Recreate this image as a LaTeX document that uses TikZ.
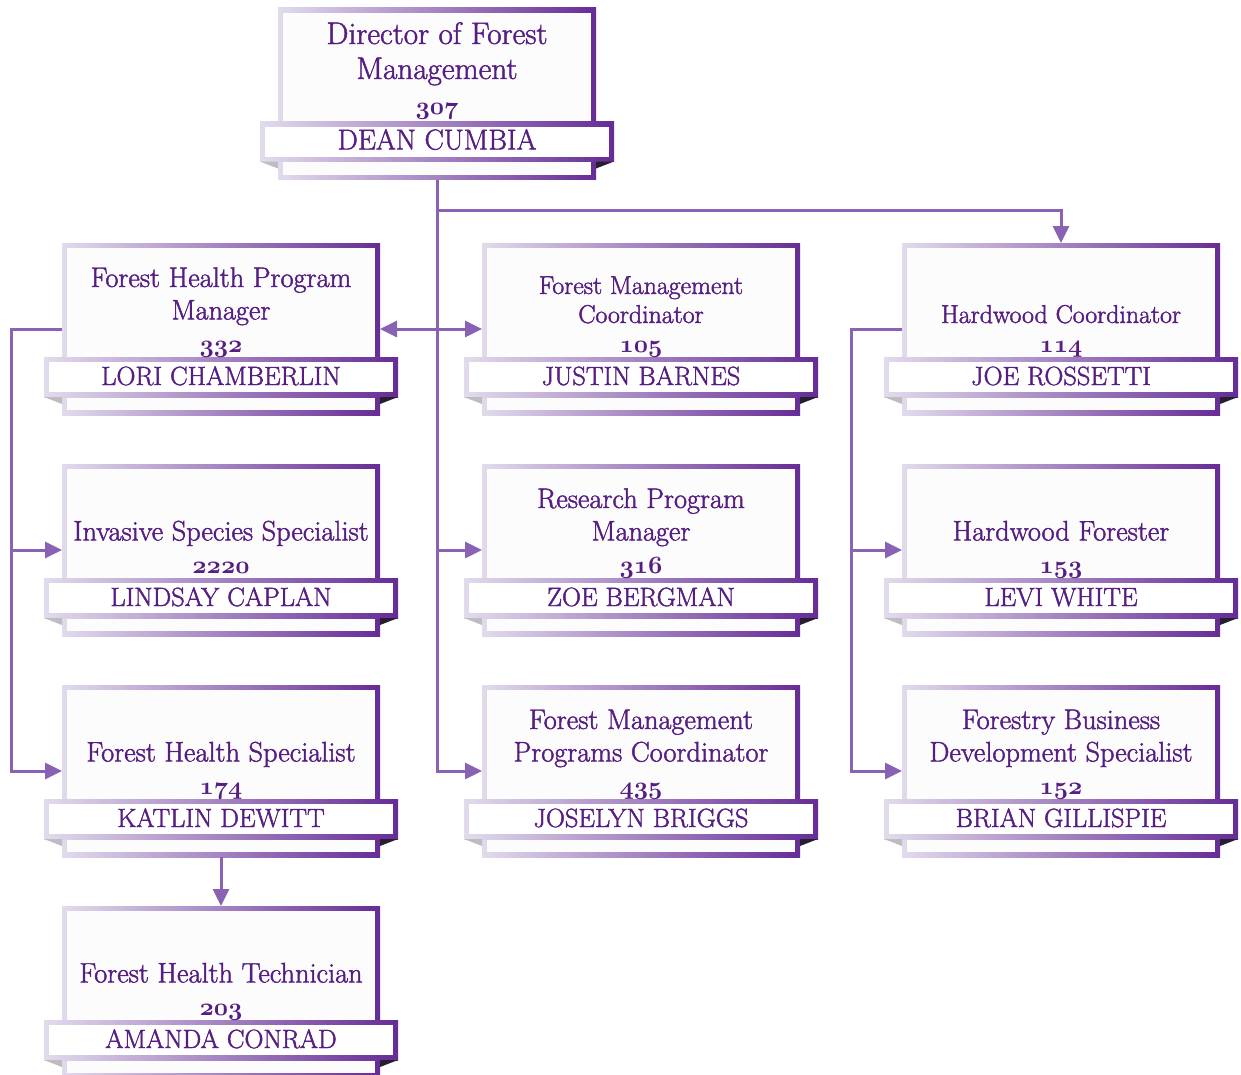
\documentclass[tikz,border=0pt]{standalone}
\usetikzlibrary{arrows.meta}
\definecolor{tp}{RGB}{86,30,130}
\definecolor{lp}{RGB}{138,98,180}
\definecolor{fl}{RGB}{226,219,236}
\definecolor{fd}{RGB}{102,44,150}
\definecolor{cardbg}{RGB}{252,252,253}
\definecolor{foldl}{RGB}{190,188,192}
\definecolor{foldr}{RGB}{40,30,50}
\newcommand\heavytext[1]{\special{pdf:literal direct 2 Tr 0.45 w}#1\special{pdf:literal direct 0 Tr}}
\newcommand\osn[1]{{\special{pdf:literal direct 0 Tr}\fontencoding{OML}\fontfamily{cmm}\fontseries{b}\fontshape{it}\selectfont #1\special{pdf:literal direct 2 Tr}}}
\newcommand\tfn{\fontsize{28.3}{32.5}\selectfont}
\newcommand\tfs{\fontsize{25.8}{29}\selectfont}
\newcommand\tft{\fontsize{31.2}{35}\selectfont}
\newcommand\nfn{\fontsize{26.4}{30}\selectfont}
\newcommand\nft{\fontsize{28.8}{32}\selectfont}
\tikzset{
  cardbox/.style={minimum width=318pt, minimum height=172pt, inner sep=0pt, outer sep=0pt, fill=cardbg},
  frameshade/.style={left color=fl, right color=fd},
  conn/.style={draw=lp, line width=3pt},
  arrowtip/.style={-{Triangle[length=17pt,width=16pt]}},
  ttl/.style={text=tp, inner sep=0pt, outer sep=0pt, align=center, anchor=base},
  nm/.style={text=tp, inner sep=0pt, outer sep=0pt, anchor=base},
}
% #1 name, #2 x, #3 y, #4 title font, #5 last baseline offset, #6 title, #7 person, #8 name font
\newcommand\card[8]{%
  \node[cardbox] (#1) at (#2,#3) {};
  \shade[frameshade] (#1.north west) rectangle (#1.south east);
  \fill[cardbg] ([shift={(5,5)}]#1.north west) rectangle ([shift={(-5,-5)}]#1.south east);
  \shade[frameshade] ([shift={(-177,28)}]#1.center) rectangle ([shift={(177,68)}]#1.center);
  \fill[white] ([shift={(-172,33)}]#1.center) rectangle ([shift={(172,63)}]#1.center);
  \fill[foldl] ([shift={(-177,68)}]#1.center) -- ([shift={(-159,68)}]#1.center) -- ([shift={(-159,75)}]#1.center) -- cycle;
  \fill[foldr] ([shift={(177,68)}]#1.center) -- ([shift={(159,68)}]#1.center) -- ([shift={(159,75)}]#1.center) -- cycle;
  \node[ttl, font=#4] (#1-title) at ([shift={(0,#5)}]#1.center) {\heavytext{#6}};
  \node[nm, font=#8] (#1-name) at ([shift={(0,56)}]#1.center) {\heavytext{#7}};
}
\begin{document}
\begin{tikzpicture}[x=1pt,y=-1pt]
\useasboundingbox (0,0) rectangle (1241,1074);
\fill[white] (0,0) rectangle (1241,1074);

\card{top}{437}{93.5}{\tft}{20.5}{Director of Forest\\Management\\\osn{307}}{DEAN CUMBIA}{\nft}

\card{lori}{221}{329}{\tfn}{23}{Forest Health Program\\Manager\\\osn{332}}{LORI CHAMBERLIN}{\nfn}
\card{justin}{641}{329}{\tfs}{23}{Forest Management\\Coordinator\\\osn{105}}{JUSTIN BARNES}{\nfn}
\card{joe}{1061}{329}{\tfs}{23}{Hardwood Coordinator\\\osn{114}}{JOE ROSSETTI}{\nfn}

\card{lindsay}{221}{550}{\tfn}{23}{Invasive Species Specialist\\\osn{2220}}{LINDSAY CAPLAN}{\nfn}
\card{zoe}{641}{550}{\tfn}{23}{Research Program\\Manager\\\osn{316}}{ZOE BERGMAN}{\nfn}
\card{levi}{1061}{550}{\tfn}{23}{Hardwood Forester\\\osn{153}}{LEVI WHITE}{\nfn}

\card{katlin}{221}{771}{\tfn}{23}{Forest Health Specialist\\\osn{174}}{KATLIN DEWITT}{\nfn}
\card{joselyn}{641}{771}{\tfn}{23}{Forest Management\\Programs Coordinator\\\osn{435}}{JOSELYN BRIGGS}{\nfn}
\card{brian}{1061}{771}{\tfn}{23}{Forestry Business\\Development Specialist\\\osn{152}}{BRIAN GILLISPIE}{\nfn}

\card{amanda}{221}{992}{\tfn}{23}{Forest Health Technician\\\osn{203}}{AMANDA CONRAD}{\nfn}

% connectors
\draw[conn,arrowtip] (top.south) |- (joselyn.west);
\draw[conn,arrowtip] (top.south |- lori.east) -- (lori.east);
\draw[conn,arrowtip] (top.south |- justin.west) -- (justin.west);
\draw[conn,arrowtip] (top.south |- zoe.west) -- (zoe.west);
\coordinate (hb) at ([yshift=-31pt]top.south);
\draw[conn,arrowtip] (hb) -| (joe.north);
\coordinate (lbus) at (11,329);
\draw[conn,arrowtip] (lori.west) -- (lbus) |- (katlin.west);
\draw[conn,arrowtip] (lbus |- lindsay.west) -- (lindsay.west);
\coordinate (rbus) at (851,329);
\draw[conn,arrowtip] (joe.west) -- (rbus) |- (brian.west);
\draw[conn,arrowtip] (rbus |- levi.west) -- (levi.west);
\draw[conn,arrowtip] (katlin.south) -- (amanda.north);
\end{tikzpicture}
\end{document}
